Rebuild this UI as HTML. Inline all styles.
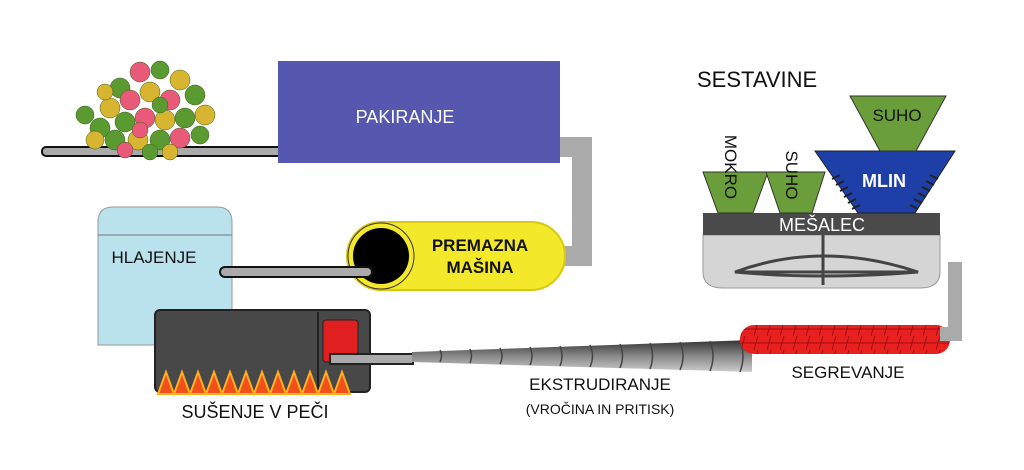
<!DOCTYPE html>
<html><head><meta charset="utf-8"><style>
html,body{margin:0;padding:0;background:#fff;width:1024px;height:470px;overflow:hidden}
text{font-family:"Liberation Sans",sans-serif}
</style></head><body>
<svg width="1024" height="470" viewBox="0 0 1024 470" xmlns="http://www.w3.org/2000/svg">
<defs>
<linearGradient id="sc" x1="0" y1="0" x2="0" y2="1"><stop offset="0" stop-color="#333"/><stop offset="0.5" stop-color="#888"/><stop offset="1" stop-color="#ccc"/></linearGradient>
<pattern id="grid" width="13" height="14" patternUnits="userSpaceOnUse"><rect width="13" height="14" fill="#e82020"/><path d="M0 14 L4 0 M0 7 H13" stroke="#a01010" stroke-width="1"/></pattern>
</defs>
<!-- conveyor top -->
<rect x="42" y="147" width="240" height="9" rx="4" fill="#aaa" stroke="#111" stroke-width="2"/>
<!-- pellets -->
<g stroke="#3a5a20" stroke-width="0.5">
<circle cx="100" cy="128" r="10" fill="#5a9a30"/><circle cx="110" cy="108" r="10" fill="#d7b530"/>
<circle cx="120" cy="88" r="10" fill="#5a9a30"/><circle cx="140" cy="72" r="10" fill="#e85a78"/>
<circle cx="160" cy="70" r="9" fill="#5a9a30"/><circle cx="180" cy="80" r="10" fill="#d7b530"/>
<circle cx="195" cy="95" r="10" fill="#5a9a30"/><circle cx="205" cy="115" r="10" fill="#d7b530"/>
<circle cx="130" cy="100" r="10" fill="#e85a78"/><circle cx="150" cy="92" r="10" fill="#d7b530"/>
<circle cx="170" cy="100" r="10" fill="#e85a78"/><circle cx="185" cy="118" r="10" fill="#5a9a30"/>
<circle cx="125" cy="122" r="10" fill="#5a9a30"/><circle cx="145" cy="118" r="10" fill="#e85a78"/>
<circle cx="165" cy="120" r="10" fill="#d7b530"/><circle cx="85" cy="115" r="9" fill="#5a9a30"/>
<circle cx="95" cy="140" r="9" fill="#d7b530"/><circle cx="115" cy="140" r="10" fill="#5a9a30"/>
<circle cx="138" cy="140" r="10" fill="#d7b530"/><circle cx="160" cy="140" r="10" fill="#5a9a30"/>
<circle cx="180" cy="138" r="10" fill="#e85a78"/><circle cx="200" cy="135" r="9" fill="#5a9a30"/>
<circle cx="125" cy="150" r="8" fill="#e85a78"/><circle cx="150" cy="152" r="8" fill="#5a9a30"/>
<circle cx="170" cy="152" r="8" fill="#d7b530"/><circle cx="105" cy="92" r="8" fill="#d7b530"/>
<circle cx="160" cy="105" r="8" fill="#5a9a30"/><circle cx="140" cy="130" r="8" fill="#e85a78"/>
</g>
<!-- pipe packing -> coating -->
<path d="M555 147 H582 V256 H555" fill="none" stroke="#aaa" stroke-width="20"/>
<!-- PAKIRANJE -->
<rect x="278" y="61" width="282" height="102" fill="#5558ae"/>
<text x="405" y="123" font-size="18" fill="#fff" text-anchor="middle">PAKIRANJE</text>
<!-- Hlajenje -->
<path d="M98 345 V222 Q98 207 113 207 H217 Q232 207 232 222 V345 Z" fill="#b9e2ec" stroke="#999" stroke-width="1"/>
<line x1="98" y1="235" x2="232" y2="235" stroke="#777"/>
<text x="154" y="263" font-size="17" fill="#111" text-anchor="middle">HLAJENJE</text>
<!-- yellow -->
<rect x="347" y="222" width="218" height="68" rx="34" fill="#f4e82a" stroke="#d8c810" stroke-width="2"/>
<circle cx="381" cy="256" r="33" fill="#f4e82a" stroke="#333" stroke-width="1"/>
<circle cx="381" cy="256" r="28" fill="#000"/>
<text x="480" y="251" font-size="17" font-weight="bold" fill="#111" text-anchor="middle">PREMAZNA</text>
<text x="480" y="273" font-size="17" font-weight="bold" fill="#111" text-anchor="middle">MAŠINA</text>
<rect x="220" y="267" width="152" height="10" rx="5" fill="#aaa" stroke="#111" stroke-width="2"/>
<!-- oven -->
<rect x="155" y="310" width="215" height="82" rx="5" fill="#484848" stroke="#222" stroke-width="2"/>
<line x1="318" y1="312" x2="318" y2="390" stroke="#222" stroke-width="2"/>
<rect x="323" y="320" width="35" height="42" rx="3" fill="#e02020" stroke="#222"/>
<path d="M158 394 L166 372 L174 394 L182 372 L190 394 L198 372 L206 394 L214 372 L222 394 L230 372 L238 394 L246 372 L254 394 L262 372 L270 394 L278 372 L286 394 L294 372 L302 394 L310 372 L318 394 L326 372 L334 394 L342 372 L350 394 Z" fill="#f0501a" stroke="#ffb020" stroke-width="2"/>
<text x="255" y="418" font-size="18" fill="#111" text-anchor="middle">SUŠENJE V PEČI</text>
<rect x="330" y="354" width="83" height="10" fill="#aaa" stroke="#222" stroke-width="2"/>
<!-- screw -->
<path d="M412 352 L752 340 L752 372 L412 362 Z" fill="url(#sc)"/>
<g stroke="#444" stroke-width="1.5" fill="none">
<path d="M440 350 q3 6 0 12 M470 349 q3 7 0 14 M500 348 q4 8 0 16 M530 347 q4 9 0 18 M560 346 q4 10 0 20 M590 345 q5 11 0 22 M620 344 q5 12 0 24 M650 343 q5 13 0 26 M680 342 q6 14 0 28 M710 341 q6 15 0 30 M740 340 q6 16 0 32"/>
</g>
<!-- heater -->
<rect x="740" y="325" width="210" height="29" rx="14" fill="url(#grid)"/>
<path d="M940 334 H955 V262" fill="none" stroke="#aaa" stroke-width="14"/>
<text x="600" y="390" font-size="17" fill="#111" text-anchor="middle">EKSTRUDIRANJE</text>
<text x="600" y="414" font-size="14" fill="#111" text-anchor="middle">(VROČINA IN PRITISK)</text>
<text x="848" y="378" font-size="17" fill="#111" text-anchor="middle">SEGREVANJE</text>
<!-- mixer -->
<path d="M703 235 H940 V272 Q940 288 920 288 H723 Q703 288 703 272 Z" fill="#d5d5d5" stroke="#999"/>
<path d="M735 272 Q822 240 918 272 Q822 280 735 272 Z" fill="none" stroke="#444" stroke-width="3"/>
<line x1="735" y1="272" x2="918" y2="272" stroke="#444" stroke-width="3"/>
<line x1="823" y1="235" x2="823" y2="285" stroke="#444" stroke-width="3"/>
<rect x="703" y="213" width="237" height="22" fill="#4a4a4a"/>
<text x="822" y="231" font-size="18" fill="#fff" text-anchor="middle">MEŠALEC</text>
<text x="697" y="87" font-size="22" fill="#111">SESTAVINE</text>
<!-- hoppers -->
<polygon points="703,172 768,172 753,213 718,213" fill="#6a9e3a" stroke="#333"/>
<polygon points="766,172 825,172 812,213 780,213" fill="#6a9e3a" stroke="#333"/>
<polygon points="815,151 955,151 915,213 858,213" fill="#1e3ea8" stroke="#222"/>
<g stroke="#222" stroke-width="2"><path d="M840 175 l-8 4 M844 181 l-8 4 M848 187 l-8 4 M852 193 l-8 4 M856 199 l-8 4 M860 205 l-8 4 M930 175 l8 4 M926 181 l8 4 M922 187 l8 4 M918 193 l8 4 M914 199 l8 4 M910 205 l8 4"/></g>
<polygon points="850,96 946,96 916,151 880,151" fill="#6a9e3a" stroke="#333"/>
<text x="897" y="121" font-size="17" fill="#111" text-anchor="middle">SUHO</text>
<text x="884" y="187" font-size="18" font-weight="bold" fill="#fff" text-anchor="middle">MLIN</text>
<text x="0" y="0" font-size="17" fill="#111" text-anchor="middle" transform="translate(725,167) rotate(90)">MOKRO</text>
<text x="0" y="0" font-size="17" fill="#111" text-anchor="middle" transform="translate(786,175) rotate(90)">SUHO</text>
</svg>
</body></html>
